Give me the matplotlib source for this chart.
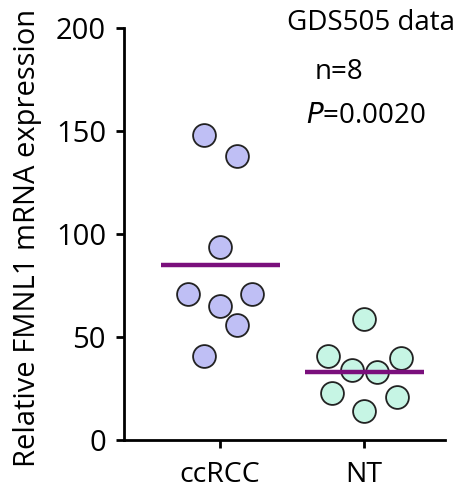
import matplotlib
matplotlib.use("Agg")
import matplotlib.pyplot as plt
import numpy as np

# data
groups = ["ccRCC", "NT"]
ccrcc_values = [148, 138, 94, 71, 71, 65, 56, 41]
ccrcc_jitter = [-0.11, 0.12, 0.0, -0.22, 0.22, 0.0, 0.12, -0.11]
nt_values = [59, 41, 40, 34, 33, 23, 21, 14]
nt_jitter = [0.0, -0.25, 0.26, -0.08, 0.09, -0.22, 0.23, 0.0]
means = [85, 33]

plt.rcParams['font.family'] = ['Open Sans', 'DejaVu Sans']

fig = plt.figure(figsize=(4.61, 4.94), dpi=100)
ax = fig.add_axes([0.269, 0.109, 0.696, 0.834])

fills = ["#bfbff5", "#c6f5e4"]
for i, (vals, jit) in enumerate([(ccrcc_values, ccrcc_jitter), (nt_values, nt_jitter)]):
    x = i + np.array(jit)
    ax.scatter(x, vals, s=270, facecolor=fills[i], edgecolor="#222222",
               linewidth=1.3, zorder=2, clip_on=False)
    ax.hlines(means[i], i - 0.41, i + 0.42, color="#7a0f7c", linewidth=3.2, zorder=3)

ax.set_xlim(-0.667, 1.5625)
ax.set_ylim(0, 200)
ax.set_yticks([0, 50, 100, 150, 200])
ax.set_xticks([0, 1])
ax.set_xticklabels(groups)
ax.spines['top'].set_visible(False)
ax.spines['right'].set_visible(False)
for s in ['left', 'bottom']:
    ax.spines[s].set_linewidth(2)
ax.tick_params(axis='both', width=2, length=6, direction='out')
ax.tick_params(axis='y', labelsize=21, pad=7)
ax.tick_params(axis='x', labelsize=20.5, pad=9)
ax.set_ylabel("Relative FMNL1 mRNA expression", fontsize=21)
ax.yaxis.set_label_coords(-0.255, 0.49)

ax.text(1.05, 202.5, "GDS505 data", fontsize=20, ha='center', va='center')
ax.text(0.83, 178.5, "n=8", fontsize=20, ha='center', va='center')
ax.text(0.60, 157.5, "$\\mathit{P}$=0.0020", fontsize=20, ha='left', va='center')

fig.savefig("out.png", dpi=100)
